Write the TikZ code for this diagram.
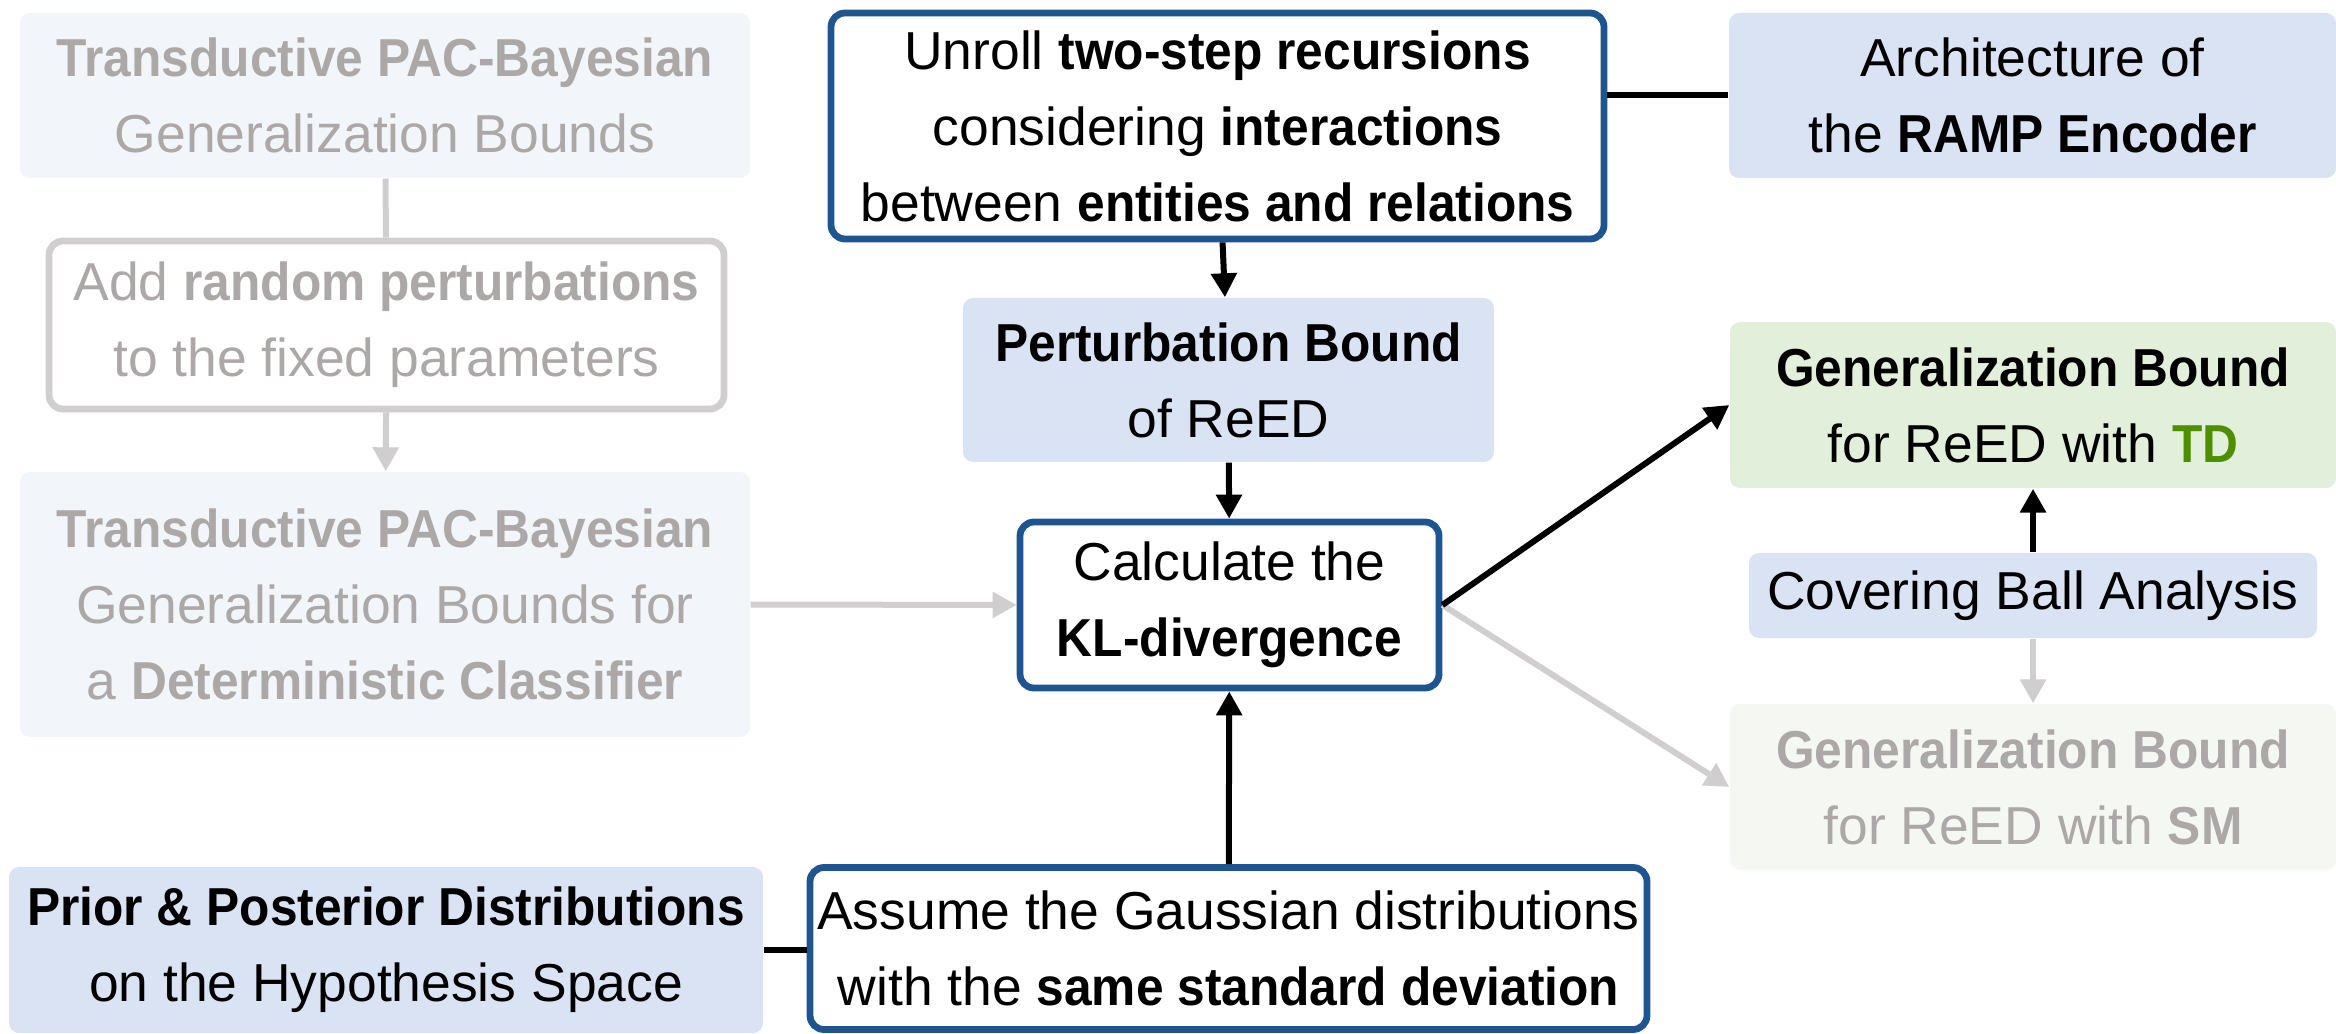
\documentclass[tikz,border=0pt]{standalone}
\usepackage{xcolor}
\usepackage{fontspec}
\setmainfont{Liberation Sans}[BoldFeatures={FakeStretch=0.93}]
\usepackage{tikz}
\usetikzlibrary{shapes,arrows.meta,positioning,calc}
\definecolor{boxblue}{RGB}{218,227,243}
\definecolor{boxpale}{RGB}{242,245,250}
\definecolor{boxgreen}{RGB}{226,239,218}
\definecolor{boxpalegreen}{RGB}{245,248,242}
\definecolor{edgeblue}{RGB}{30,85,145}
\definecolor{fadegray}{RGB}{208,206,206}
\definecolor{fadetext}{RGB}{172,168,167}
\definecolor{tdgreen}{RGB}{78,143,0}

\begin{document}
\begin{tikzpicture}[
    box/.style={rectangle, rounded corners=0.1cm, align=center, inner sep=0pt, font=\fontsize{15.2}{21.6}\selectfont},
    keybox/.style={box, draw=edgeblue, fill=white, line width=0.068cm, rounded corners=0.14cm},
    fadebox/.style={box, text=fadetext},
    fadeedge/.style={fadebox, draw=fadegray, fill=white, line width=0.068cm, rounded corners=0.14cm},
    arrow/.style={->, >={Triangle[length=0.24cm, width=0.25cm]}, line width=0.06cm},
    link/.style={line width=0.06cm},
    fade/.style={draw=fadegray, fill=fadegray}
]
    \useasboundingbox (0,0) rectangle (23.36,10.33);

    % left column: PAC-Bayesian route
    \node[fadebox, fill=boxpale, minimum width=7.30cm, minimum height=1.65cm] (pacb) at (3.85,9.375) {\textbf{Transductive PAC-Bayesian}\\Generalization Bounds};
    \node[fadeedge, minimum width=6.75cm, minimum height=1.68cm] (perturb) at (3.865,7.08) {Add \textbf{random perturbations}\\to the fixed parameters};
    \node[fadebox, fill=boxpale, minimum width=7.30cm, minimum height=2.65cm] (pacbdet) at (3.85,4.285) {\textbf{Transductive PAC-Bayesian}\\Generalization Bounds for\\a \textbf{Deterministic Classifier}};
    \node[box, fill=boxblue, minimum width=7.54cm, minimum height=1.66cm] (prior) at (3.86,0.83) {\textbf{Prior \& Posterior Distributions}\\on the Hypothesis Space};

    % middle column
    \node[keybox, minimum width=7.73cm, minimum height=2.26cm] (unroll) at (12.175,9.07) {Unroll \textbf{two-step recursions}\\considering \textbf{interactions}\\between \textbf{entities and relations}};
    \node[box, fill=boxblue, minimum width=5.31cm, minimum height=1.64cm] (pbound) at (12.285,6.53) {\textbf{Perturbation Bound}\\of ReED};
    \node[keybox, minimum width=4.19cm, minimum height=1.66cm] (kl) at (12.295,4.28) {Calculate the\\\textbf{KL-divergence}};
    \node[keybox, minimum width=8.37cm, minimum height=1.62cm] (gauss) at (12.285,0.845) {Assume the Gaussian distributions\\with the \textbf{same standard deviation}};

    % right column
    \node[box, fill=boxblue, minimum width=6.07cm, minimum height=1.65cm] (arch) at (20.325,9.375) {Architecture of\\the \textbf{RAMP Encoder}};
    \node[box, fill=boxgreen, minimum width=6.06cm, minimum height=1.66cm] (gbtd) at (20.33,6.28) {\textbf{Generalization Bound}\\for ReED with \textbf{\color{tdgreen}TD}};
    \node[box, fill=boxblue, minimum width=5.68cm, minimum height=0.85cm] (cover) at (20.33,4.375) {Covering Ball Analysis};
    \node[fadebox, fill=boxpalegreen, minimum width=6.06cm, minimum height=1.66cm] (gbsm) at (20.33,2.46) {\textbf{Generalization Bound}\\for ReED with \textbf{SM}};

    % faded connectors
    \draw[link, fadegray] (pacb) -- (perturb);
    \draw[arrow, fadegray] (perturb) -- (pacbdet);
    \draw[arrow, fadegray] (pacbdet.east) -- (kl.west);
    \draw[arrow, fadegray] (kl.east) -- (gbsm.west);
    \draw[arrow, fadegray] (cover) -- (gbsm);

    % main connectors
    \draw[link] (prior.east) -- (prior.east -| gauss.west);
    \draw[link] (arch.west) -- (arch.west -| unroll.east);
    \draw[arrow] (unroll) -- (pbound);
    \draw[arrow] (pbound) -- (kl);
    \draw[arrow] (gauss) -- (kl);
    \draw[arrow] (kl.east) -- (gbtd.west);
    \draw[arrow] (cover) -- (gbtd);
\end{tikzpicture}
\end{document}
